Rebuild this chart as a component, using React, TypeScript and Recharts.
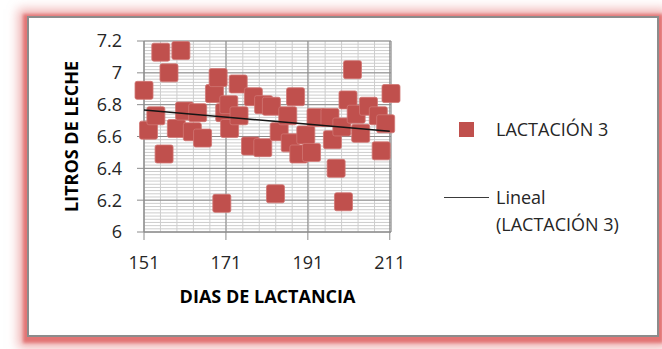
import { CartesianGrid, Scatter, ScatterChart, XAxis, YAxis } from 'recharts';

// Lactation day vs. litres of milk, one point per record
const DAYS = [
  151.0, 152.1, 153.9, 155.1, 155.9, 157.1, 158.9, 160.0, 160.9, 162.8, 164.1, 165.3,
  168.2, 169.1, 170.0, 170.7, 171.7, 171.9, 174.0, 174.2, 177.7, 177.0, 180.0, 180.2,
  182.1, 183.1, 184.0, 186.1, 186.7, 188.0, 188.8, 190.5, 191.9, 193.0, 196.4, 197.0,
  197.9, 199.3, 199.7, 200.8, 201.9, 202.8, 203.9, 205.8, 208.2, 208.9, 210.0, 211.3,
];
const LITERS = [
  6.89, 6.64, 6.73, 7.13, 6.49, 7.0, 6.65, 7.14, 6.76, 6.63, 6.75, 6.59,
  6.87, 6.97, 6.18, 6.75, 6.8, 6.65, 6.93, 6.73, 6.85, 6.54, 6.53, 6.8,
  6.79, 6.24, 6.63, 6.73, 6.56, 6.85, 6.49, 6.61, 6.5, 6.72, 6.72, 6.58,
  6.4, 6.66, 6.19, 6.83, 7.02, 6.74, 6.62, 6.79, 6.73, 6.51, 6.68, 6.87,
];

// Linear trend end points
const TREND_DAYS = [151, 211];
const TREND_LITERS = [6.766, 6.633];

const X_DOMAIN: [number, number] = [151, 211];
const Y_DOMAIN: [number, number] = [6, 7.2];
const X_TICKS = [151, 171, 191, 211];
const X_MINOR = [151, 155, 159, 163, 167, 171, 175, 179, 183, 187, 191, 195, 199, 203, 207, 211];
const Y_TICKS = [6, 6.2, 6.4, 6.6, 6.8, 7, 7.2];
const Y_MINOR = Array.from({ length: 61 }, (_, i) => Number((6 + i * 0.02).toFixed(2)));

const SERIES_NAME = 'LACTACIÓN 3';
const TREND_NAME = ['Lineal', `(${SERIES_NAME})`];

const RED = '#C0504D';
const FONT = '"Open Sans", "DejaVu Sans", sans-serif';
const INK = '#262626';

const points = DAYS.map((d, i) => ({ x: d, y: LITERS[i] }));
const trend = TREND_DAYS.map((d, i) => ({ x: d, y: TREND_LITERS[i] }));

// minor grid: same linear mapping as the number axes, over the plot offset
const minorX = ({ offset }: any) =>
  X_MINOR.map((v) => offset.left + ((v - X_DOMAIN[0]) / (X_DOMAIN[1] - X_DOMAIN[0])) * offset.width);
const minorY = ({ offset }: any) =>
  Y_MINOR.map((v) => offset.top + ((Y_DOMAIN[1] - v) / (Y_DOMAIN[1] - Y_DOMAIN[0])) * offset.height);

function SquareMarker(props: any) {
  const { cx, cy } = props;
  if (cx == null || cy == null) return <g />;
  return (
    <rect x={cx - 9} y={cy - 9} width={18} height={18} rx={2} fill={RED} stroke="#D07674" strokeWidth={0.8} />
  );
}

const tickStyle = { fill: INK, fontSize: 18, fontFamily: FONT };
const titleStyle = { fill: '#000', fontSize: 18, fontWeight: 700, fontFamily: FONT };

export default function App() {
  return (
    <div style={{ position: 'absolute', left: 0, top: 0, width: 662, height: 349, background: '#fff', overflow: 'hidden' }}>
      <div
        style={{
          position: 'absolute',
          left: 27,
          top: 16,
          width: 628,
          height: 317,
          border: '2px solid #8c8c8c',
          background: '#fff',
          boxShadow: '0 2px 3px 4px rgba(222,95,95,0.75), 0 2px 10px 9px rgba(228,120,120,0.55)',
        }}
      />
      <div style={{ position: 'absolute', left: 0, top: 0 }}>
        <ScatterChart width={662} height={349} margin={{ top: 41, right: 271, bottom: 87, left: 0 }}>
          <CartesianGrid
            stroke="#cdcdcd"
            verticalCoordinatesGenerator={minorX}
            horizontalCoordinatesGenerator={minorY}
          />
          <CartesianGrid stroke="#8c8c8c" />
          <XAxis
            type="number"
            dataKey="x"
            domain={X_DOMAIN}
            ticks={X_TICKS}
            interval={0}
            height={30}
            tickSize={8}
            tickMargin={16}
            tick={tickStyle}
            axisLine={{ stroke: '#8c8c8c' }}
            tickLine={{ stroke: '#8c8c8c' }}
            label={{ value: 'DIAS DE LACTANCIA', position: 'bottom', offset: 28, style: titleStyle }}
          />
          <YAxis
            type="number"
            dataKey="y"
            domain={Y_DOMAIN}
            ticks={Y_TICKS}
            interval={0}
            width={144}
            tickSize={7}
            tickMargin={15}
            tick={tickStyle}
            axisLine={{ stroke: '#8c8c8c' }}
            tickLine={{ stroke: '#8c8c8c' }}
            label={{
              value: 'LITROS DE LECHE',
              angle: -90,
              position: 'insideLeft',
              offset: 72,
              style: { ...titleStyle, textAnchor: 'middle' },
            }}
          />
          <Scatter name={SERIES_NAME} data={points} shape={SquareMarker} isAnimationActive={false} />
          <Scatter
            name={TREND_NAME.join(' ')}
            data={trend}
            line={{ stroke: '#151515', strokeWidth: 1.5 }}
            shape={() => <g />}
            isAnimationActive={false}
          />
        </ScatterChart>
      </div>
      {/* legend */}
      <div style={{ position: 'absolute', left: 440, top: 100, width: 215, height: 140, fontFamily: FONT, fontSize: 18, color: INK, lineHeight: '27px' }}>
        <div style={{ position: 'absolute', left: 19, top: 22, width: 15, height: 15, background: RED }} />
        <div style={{ position: 'absolute', left: 56, top: 15.5, whiteSpace: 'nowrap' }}>{SERIES_NAME}</div>
        <div style={{ position: 'absolute', left: 4, top: 96.5, width: 45, height: 0, borderTop: '1.5px solid #3a3a3a' }} />
        <div style={{ position: 'absolute', left: 56, top: 83.8, whiteSpace: 'nowrap' }}>
          {TREND_NAME.map((t) => (
            <div key={t}>{t}</div>
          ))}
        </div>
      </div>
    </div>
  );
}
